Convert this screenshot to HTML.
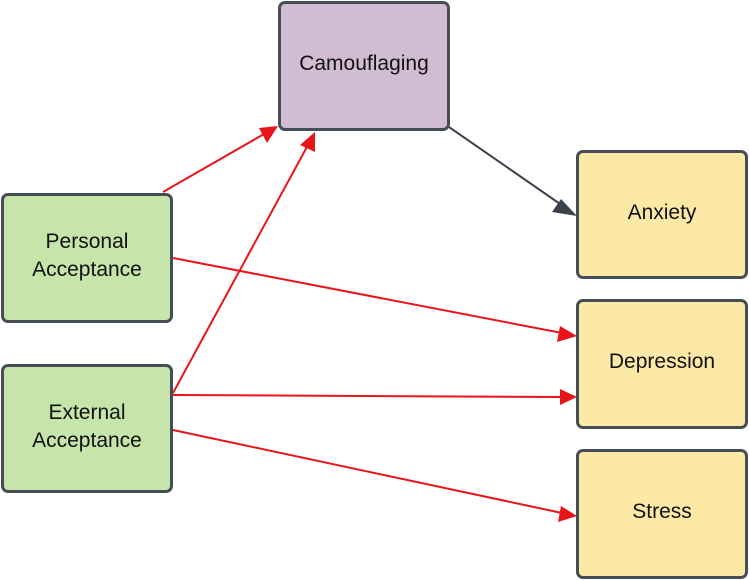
<!DOCTYPE html>
<html><head><style>
body{margin:0;width:750px;height:580px;background:#fff;position:relative;font-family:"Liberation Sans",sans-serif;overflow:hidden}
.b{position:absolute;box-sizing:border-box;border:3px solid #474d57;border-radius:7px;display:flex;align-items:center;justify-content:center;text-align:center;font-size:21px;color:#111;line-height:28px;padding-bottom:4px}
.g{background:#c5e5aa}.p{background:#d1bcd3}.y{background:#fde9a6}
svg{position:absolute;left:0;top:0}
</style></head><body>
<svg width="750" height="580">
<g stroke="#e8141a" stroke-width="2" fill="none">
<line x1="163" y1="192" x2="264" y2="134"/>
<line x1="173" y1="393" x2="308" y2="145"/>
<line x1="173" y1="258" x2="562" y2="333"/>
<line x1="173" y1="395" x2="562" y2="397"/>
<line x1="173" y1="430" x2="562" y2="513"/>
</g>
<g fill="#e8141a">
<polygon points="278,126 259,128 267,143"/>
<polygon points="315,132 300,145 315,152"/>
<polygon points="577,336 560,326 557,342"/>
<polygon points="577,397 560,389 560,405"/>
<polygon points="577,516 561,506 558,522"/>
</g>
<line x1="449" y1="127" x2="563" y2="206" stroke="#3a414b" stroke-width="2"/>
<polygon points="577,216 561,199 552,212" fill="#3a414b"/>
</svg>
<div class="b p" style="left:278px;top:1px;width:172px;height:130px">Camouflaging</div>
<div class="b g" style="left:1px;top:193px;width:172px;height:130px">Personal<br>Acceptance</div>
<div class="b g" style="left:1px;top:364px;width:172px;height:129px">External<br>Acceptance</div>
<div class="b y" style="left:576px;top:150px;width:172px;height:129px">Anxiety</div>
<div class="b y" style="left:576px;top:299px;width:172px;height:130px">Depression</div>
<div class="b y" style="left:576px;top:449px;width:172px;height:130px">Stress</div>
</body></html>
